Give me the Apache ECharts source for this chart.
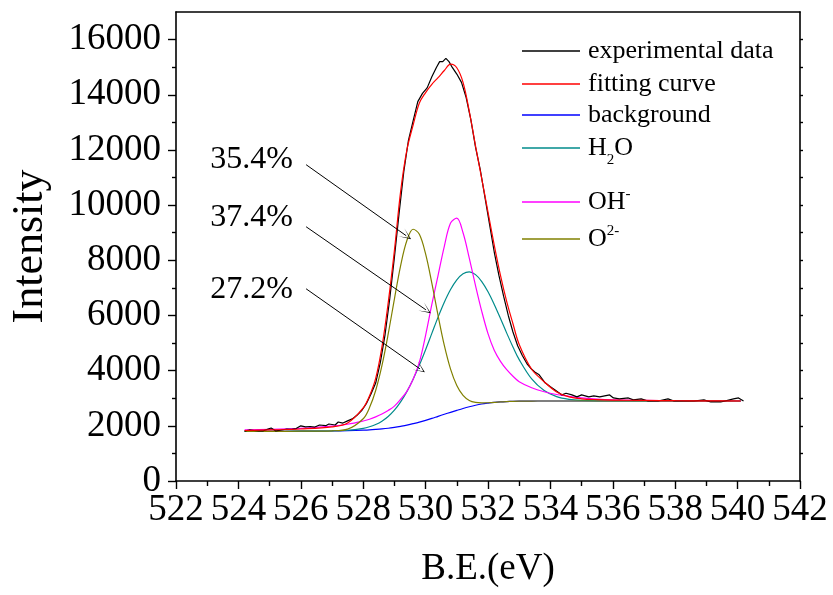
<!DOCTYPE html>
<html><head><meta charset="utf-8">
<script src="https://cdn.jsdelivr.net/npm/echarts@6/dist/echarts.min.js"></script>
<style>html,body{margin:0;padding:0;background:#fff}#c{width:833px;height:595px}</style>
</head><body><div id="c"></div>
<script>
// ---- data ----
const compX = [524.2,525.0,526.0,527.0,527.5,528.0,528.2,528.4,528.6,528.8,529.0,529.2,529.4,529.6,529.8,530.0,530.2,530.4,530.6,530.8,531.0,531.2,531.4,531.6,531.8,532.0,532.2,532.4,532.6,532.8,533.0,533.4,533.8,534.2,534.6,535.0,535.5,536.0,537.0,538.0,539.0,540.1];
const backgroundY = [1800,1800,1805,1815,1825,1845,1855,1870,1888,1912,1945,1983,2025,2078,2135,2200,2270,2345,2418,2490,2560,2628,2690,2745,2790,2822,2848,2866,2878,2887,2893,2898,2900,2900,2900,2900,2900,2900,2900,2900,2900,2900];
const o2Y = [1800,1800,1805,1819,1880,2258,2652,3280,4178,5320,6596,7810,8716,9125,8943,8230,7171,5997,4914,4054,3460,3101,2919,2847,2831,2837,2848,2866,2878,2887,2893,2898,2900,2900,2900,2900,2900,2900,2900,2900,2900,2900];
const ohY = [1856,1870,1910,1990,2056,2174,2240,2325,2427,2556,2715,2963,3250,3688,4305,5280,6400,7455,8508,9350,9525,8998,8080,7085,6150,5342,4738,4336,4033,3797,3600,3380,3235,3135,3070,3015,2965,2940,2922,2912,2906,2903];
const h2oY = [1800,1800,1805,1819,1840,1910,1965,2050,2170,2340,2570,2870,3240,3690,4200,4760,5350,5940,6480,6940,7290,7510,7580,7480,7230,6860,6400,5890,5360,4860,4400,3700,3280,3060,2960,2920,2902,2900,2900,2900,2900,2900];
const fitY = [1830,1850,1885,1960,2100,2650,3080,3720,4850,6450,8350,10500,12000,12900,13700,14080,14380,14620,14880,15110,14980,14450,13400,12150,10950,9750,8550,7450,6500,5700,4950,4050,3600,3230,3050,2980,2950,2935,2920,2910,2905,2900];
const expX = [524.2,524.35,524.5,524.65,524.8,524.95,525.05,525.2,525.35,525.55,525.7,525.85,526.0,526.15,526.3,526.45,526.6,526.8,526.9,527.1,527.2,527.35,527.5,527.65,527.8,527.95,528.1,528.25,528.4,528.55,528.7,528.85,529.0,529.15,529.3,529.45,529.6,529.75,529.9,530.05,530.2,530.35,530.45,530.55,530.65,530.75,530.85,531.0,531.15,531.3,531.45,531.6,531.75,531.9,532.05,532.2,532.35,532.5,532.65,532.8,532.95,533.1,533.25,533.4,533.5,533.64,533.83,534.0,534.15,534.37,534.5,534.69,534.85,535.0,535.23,535.39,535.58,535.74,535.9,536.02,536.21,536.5,536.66,536.91,537.13,537.45,537.77,537.96,538.4,538.44,538.6,538.92,539.14,539.46,539.87,540.03,540.19];
const expY = [1810,1850,1830,1815,1820,1880,1920,1815,1840,1885,1870,1900,2000,1960,1975,1955,2030,2005,2065,2030,2140,2100,2180,2250,2380,2550,2800,3150,3550,4300,5300,6600,8100,9700,11200,12350,13050,13750,14050,14250,14650,15000,15200,15200,15320,15200,15000,14750,14450,13900,13100,12100,11300,10300,9300,8300,7450,6700,6000,5400,4900,4550,4250,4050,3950,3850,3560,3420,3300,3120,3180,3120,3050,3120,3050,3085,3050,3085,3120,3010,2975,3010,2940,2975,2900,2900,2975,2900,2900,2830,2900,2940,2865,2865,2975,3010,2900];
const xTicks = [522,524,526,528,530,532,534,536,538,540,542];
const yTicks = [0,2000,4000,6000,8000,10000,12000,14000,16000];
const yMinorTicks = [1000,3000,5000,7000,9000,11000,13000,15000];
const yRightTicks = [1000,2000,3000,4000,5000,6000,7000,8000,9000,10000,11000,12000,13000,14000,15000,16000];
const seriesNames = ['experimental data','fitting curve','background','H2O','OH-','O2-'];
const percentLabels = ['35.4%','37.4%','27.2%'];
const percentAt = [[524.42,11650],[524.42,9540],[524.42,6930]];
const arrowFrom = [[526.17,11466],[526.17,9216],[526.17,6967]];
const arrowTo = [[529.38,8890],[530.01,6205],[529.82,4064]];

// ---- chart ----
const FONT = 'Liberation Serif';
const colors = ['#000000','#ff0000','#0000ff','#008b8b','#ff00ff','#808000'];
const zip = (xs, ys) => xs.map((x, i) => [x, ys[i]]);
const legendCenters = [58, 91, 122, 155, 202, 239];
const legendText = {
  'experimental data': '{t|experimental data}',
  'fitting curve': '{t|fitting curve}',
  'background': '{t|background}',
  'H2O': '{t|H}{sub|2}{t|O}',
  'OH-': '{t|OH}{sup|-}',
  'O2-': '{t|O}{sup|2-}'
};
const rich = {
  t: {fontFamily: FONT, fontSize: 26, color: '#000', lineHeight: 40, verticalAlign: 'middle'},
  sub: {fontFamily: FONT, fontSize: 15, color: '#000', lineHeight: 15, verticalAlign: 'bottom'},
  sup: {fontFamily: FONT, fontSize: 15, color: '#000', lineHeight: 15, verticalAlign: 'top', padding: [5, 0, 0, 0]}
};
const legends = seriesNames.map((n, i) => ({
  data: [n], left: 522, top: legendCenters[i] - 20, padding: 0,
  orient: 'vertical', icon: 'rect', itemWidth: 58, itemHeight: 1.6,
  selectedMode: false,
  formatter: name => legendText[name],
  textStyle: {fontFamily: FONT, fontSize: 26, color: '#000', rich: rich, padding: [0, 0, 0, 3]}
}));

const ys = [expY, fitY, backgroundY, h2oY, ohY, o2Y];
const series = seriesNames.map((n, i) => ({
  name: n, type: 'line', xAxisIndex: 0, yAxisIndex: 0,
  data: i === 0 ? zip(expX, expY) : zip(compX, ys[i]),
  showSymbol: false, symbol: 'none', smooth: i === 0 ? false : 0.35,
  lineStyle: {color: colors[i], width: 1.2}, itemStyle: {color: colors[i]},
  z: i === 0 ? 3 : (i === 1 ? 4 : 2), silent: true
}));
series[2].markLine = {
  silent: true, animation: false,
  symbol: ['none', 'path://M0,12 L5,0 L10,12 L5,2 Z'], symbolSize: [10, 12],
  label: {show: false},
  lineStyle: {color: '#000', width: 1, type: 'solid'},
  emphasis: {disabled: true},
  data: arrowFrom.map((a, i) => [{coord: a}, {coord: arrowTo[i]}])
};
series[2].markPoint = {
  silent: true, animation: false, symbol: 'circle', symbolSize: 1,
  itemStyle: {color: 'rgba(0,0,0,0)'},
  label: {show: true, position: 'inside', fontFamily: FONT, fontSize: 32, color: '#000'},
  data: percentLabels.map((t, i) => ({coord: percentAt[i], value: t, label: {formatter: t}}))
};

const axisLineStyle = {color: '#000', width: 1.6};
const option = {
  animation: false,
  backgroundColor: '#fff',
  grid: {left: 171, right: 33, top: 12, bottom: 114, containLabel: false},
  legend: legends,
  xAxis: [{
    type: 'value', position: 'bottom', min: 522, max: 542, interval: 2,
    axisLine: {show: true, lineStyle: axisLineStyle, onZero: false},
    axisTick: {show: true, length: 8, lineStyle: {color: '#000', width: 1.4}, customValues: xTicks},
    minorTick: {show: true, splitNumber: 2, length: 5, lineStyle: {color: '#000', width: 1.4}},
    axisLabel: {fontFamily: FONT, fontSize: 37, color: '#000', margin: 11, customValues: xTicks, formatter: v => String(v)},
    splitLine: {show: false}, minorSplitLine: {show: false},
    name: 'B.E.(eV)', nameLocation: 'middle', nameGap: 70,
    nameTextStyle: {fontFamily: FONT, fontSize: 37, color: '#000'}
  }, {
    type: 'value', position: 'top', min: 522, max: 542, interval: 2,
    axisLine: {show: true, lineStyle: axisLineStyle, onZero: false},
    axisTick: {show: false}, axisLabel: {show: false}, splitLine: {show: false}
  }],
  yAxis: [{
    type: 'value', position: 'left', min: 0, max: 17000, interval: 1000,
    axisLine: {show: true, lineStyle: axisLineStyle, onZero: false},
    axisTick: {show: true, length: 8, lineStyle: {color: '#000', width: 1.4}, customValues: yTicks},
    axisLabel: {fontFamily: FONT, fontSize: 37, color: '#000', margin: 15, customValues: yTicks, formatter: v => String(v)},
    splitLine: {show: false},
    name: 'Intensity', nameLocation: 'middle', nameGap: 124,
    nameTextStyle: {fontFamily: FONT, fontSize: 44, color: '#000'}
  }, {
    type: 'value', position: 'left', min: 0, max: 17000, interval: 1000,
    axisLine: {show: false},
    axisTick: {show: true, length: 4, lineStyle: {color: '#000', width: 1.4}, customValues: yMinorTicks},
    axisLabel: {show: false}, splitLine: {show: false}
  }, {
    type: 'value', position: 'right', min: 0, max: 17000, interval: 1000,
    axisLine: {show: true, lineStyle: axisLineStyle, onZero: false},
    axisTick: {show: true, length: 3, lineStyle: {color: '#000', width: 1.4}, customValues: yRightTicks},
    axisLabel: {show: false}, splitLine: {show: false}
  }],
  series: series
};
const chart = echarts.init(document.getElementById('c'), null, {renderer: 'canvas'});
chart.setOption(option);
</script>
</body></html>
